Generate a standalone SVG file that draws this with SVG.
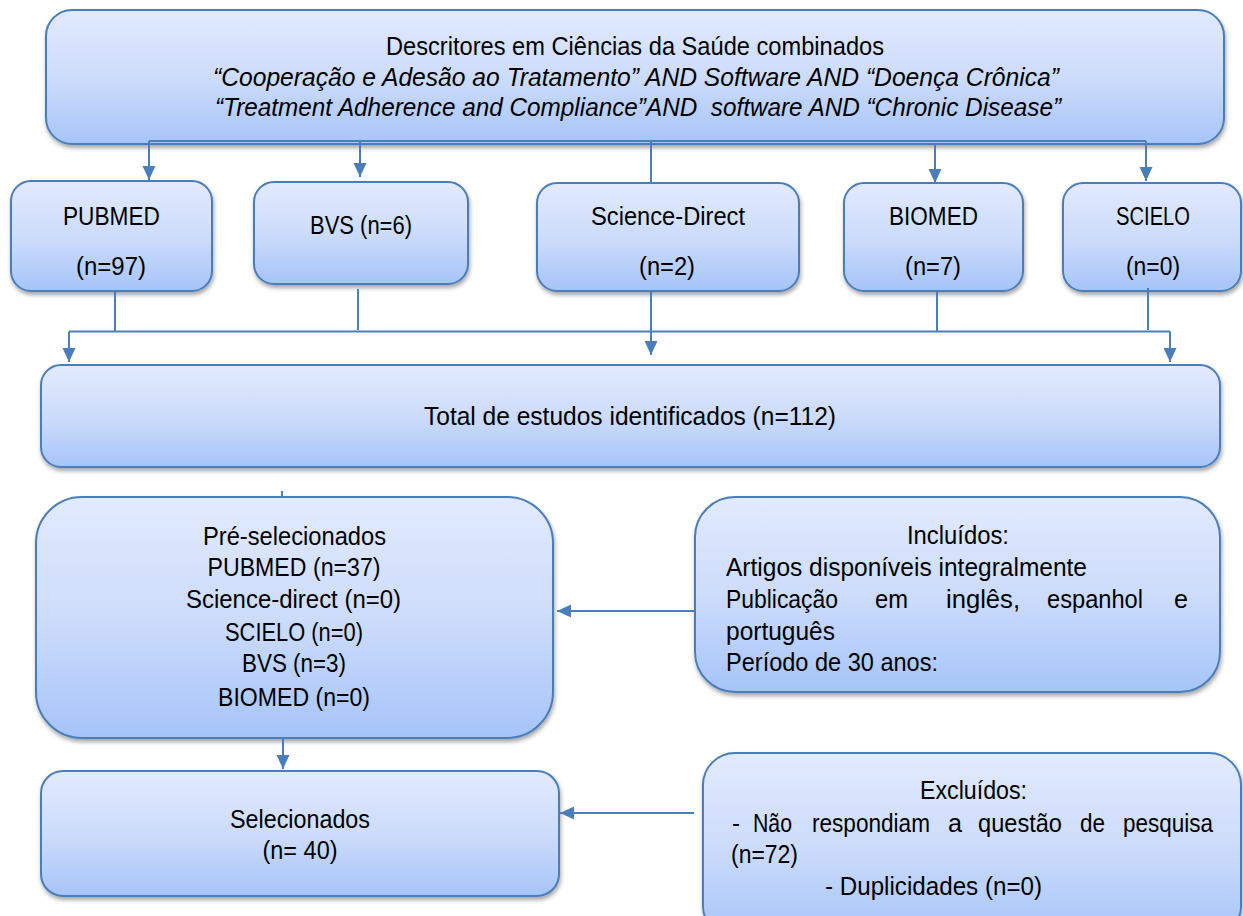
<svg xmlns="http://www.w3.org/2000/svg" width="1243" height="916" viewBox="0 0 1243 916">
  <defs>
    <linearGradient id="fillGrad" x1="0" y1="0" x2="0" y2="1">
      <stop offset="0" stop-color="#e2eafd"/>
      <stop offset="0.5" stop-color="#cddcfb"/>
      <stop offset="1" stop-color="#a6c4f9"/>
    </linearGradient>
    <filter id="shadow" x="-5%" y="-10%" width="110%" height="130%">
      <feDropShadow dx="1" dy="3" stdDeviation="2" flood-color="#000" flood-opacity="0.35"/>
    </filter>
    <marker id="arrow" markerUnits="userSpaceOnUse" markerWidth="14" markerHeight="14" viewBox="0 0 14 14" refX="14" refY="7" orient="auto">
      <path d="M0,0.5 L14,7 L0,13.5 Z" fill="#4a7ebb"/>
    </marker>
    <style>
      .box { fill: url(#fillGrad); stroke: #4a7ebb; stroke-width: 2; filter: url(#shadow); }
      .t { font-family: "Liberation Sans", Arial, sans-serif; font-size: 25px; fill: #000; }
      .c { text-anchor: middle; }
      .i { font-style: italic; }
      .conn { stroke: #4a7ebb; stroke-width: 2; fill: none; }
      .arr { marker-end: url(#arrow); }
    </style>
  </defs>

  <g id="node-descritores">
    <rect class="box" x="46" y="10" width="1178" height="134" rx="26" ry="26"/>
    <text class="t" x="386" y="55" textLength="498" lengthAdjust="spacingAndGlyphs">Descritores em Ciências da Saúde combinados</text>
    <text class="t i" x="213" y="86" textLength="846" lengthAdjust="spacingAndGlyphs">“Cooperação e Adesão ao Tratamento” AND Software AND “Doença Crônica”</text>
    <text class="t i" x="215" y="116" textLength="846" lengthAdjust="spacingAndGlyphs" xml:space="preserve">“Treatment Adherence and Compliance”AND  software AND “Chronic Disease”</text>
  </g>

  <g id="node-pubmed">
    <rect class="box" x="11" y="181" width="201" height="110" rx="20" ry="20"/>
    <text class="t c" x="111.5" y="225" textLength="97" lengthAdjust="spacingAndGlyphs">PUBMED</text>
    <text class="t c" x="111" y="275" textLength="70" lengthAdjust="spacingAndGlyphs">(n=97)</text>
  </g>

  <g id="node-bvs">
    <rect class="box" x="254" y="182" width="214" height="102" rx="20" ry="20"/>
    <text class="t c" x="361" y="234" textLength="102" lengthAdjust="spacingAndGlyphs">BVS (n=6)</text>
  </g>

  <g id="node-science">
    <rect class="box" x="537" y="183" width="262" height="108" rx="20" ry="20"/>
    <text class="t c" x="668" y="225" textLength="154" lengthAdjust="spacingAndGlyphs">Science-Direct</text>
    <text class="t c" x="667" y="275" textLength="56" lengthAdjust="spacingAndGlyphs">(n=2)</text>
  </g>

  <g id="node-biomed">
    <rect class="box" x="844" y="183" width="179" height="108" rx="20" ry="20"/>
    <text class="t c" x="933.5" y="225" textLength="89" lengthAdjust="spacingAndGlyphs">BIOMED</text>
    <text class="t c" x="933" y="275" textLength="56" lengthAdjust="spacingAndGlyphs">(n=7)</text>
  </g>

  <g id="node-scielo">
    <rect class="box" x="1063" y="183" width="178" height="108" rx="20" ry="20"/>
    <text class="t c" x="1153" y="225" textLength="74" lengthAdjust="spacingAndGlyphs">SCIELO</text>
    <text class="t c" x="1153" y="275" textLength="54" lengthAdjust="spacingAndGlyphs">(n=0)</text>
  </g>

  <g id="node-total">
    <rect class="box" x="41" y="365" width="1179" height="102" rx="20" ry="20"/>
    <text class="t c" x="630" y="425" textLength="412" lengthAdjust="spacingAndGlyphs">Total de estudos identificados (n=112)</text>
  </g>

  <g id="node-preselecionados">
    <rect class="box" x="36" y="497" width="517" height="241" rx="46" ry="46"/>
    <text class="t c" x="294.5" y="545" textLength="183" lengthAdjust="spacingAndGlyphs">Pré-selecionados</text>
    <text class="t c" x="294" y="576" textLength="173" lengthAdjust="spacingAndGlyphs">PUBMED (n=37)</text>
    <text class="t c" x="293.5" y="608" textLength="215" lengthAdjust="spacingAndGlyphs">Science-direct (n=0)</text>
    <text class="t c" x="294" y="640.5" textLength="138" lengthAdjust="spacingAndGlyphs">SCIELO (n=0)</text>
    <text class="t c" x="294" y="672" textLength="104" lengthAdjust="spacingAndGlyphs">BVS (n=3)</text>
    <text class="t c" x="294" y="706" textLength="152" lengthAdjust="spacingAndGlyphs">BIOMED (n=0)</text>
  </g>

  <g id="node-incluidos">
    <rect class="box" x="695" y="497" width="525" height="195" rx="40" ry="40"/>
    <text class="t c" x="958" y="544" textLength="102" lengthAdjust="spacingAndGlyphs">Incluídos:</text>
    <text class="t" x="726" y="576" textLength="361" lengthAdjust="spacingAndGlyphs">Artigos disponíveis integralmente</text>
    <text class="t" x="726" y="608" textLength="112" lengthAdjust="spacingAndGlyphs">Publicação</text>
    <text class="t" x="875" y="608" textLength="33" lengthAdjust="spacingAndGlyphs">em</text>
    <text class="t" x="946" y="608" textLength="74" lengthAdjust="spacingAndGlyphs">inglês,</text>
    <text class="t" x="1047" y="608" textLength="96" lengthAdjust="spacingAndGlyphs">espanhol</text>
    <text class="t" x="1174" y="608" textLength="14" lengthAdjust="spacingAndGlyphs">e</text>
    <text class="t" x="726" y="640" textLength="109" lengthAdjust="spacingAndGlyphs">português</text>
    <text class="t" x="726" y="671" textLength="212" lengthAdjust="spacingAndGlyphs">Período de 30 anos:</text>
  </g>

  <g id="node-selecionados">
    <rect class="box" x="41" y="771" width="518" height="125" rx="22" ry="22"/>
    <text class="t c" x="300" y="828" textLength="140" lengthAdjust="spacingAndGlyphs">Selecionados</text>
    <text class="t c" x="300" y="859" textLength="75" lengthAdjust="spacingAndGlyphs">(n= 40)</text>
  </g>

  <g id="node-excluidos">
    <rect class="box" x="703" y="753" width="538" height="185" rx="32" ry="32"/>
    <text class="t c" x="973.5" y="799" textLength="107" lengthAdjust="spacingAndGlyphs">Excluídos:</text>
    <text class="t" x="732" y="832" textLength="8" lengthAdjust="spacingAndGlyphs">-</text>
    <text class="t" x="753" y="832" textLength="39" lengthAdjust="spacingAndGlyphs">Não</text>
    <text class="t" x="812" y="832" textLength="118" lengthAdjust="spacingAndGlyphs">respondiam</text>
    <text class="t" x="948" y="832" textLength="14" lengthAdjust="spacingAndGlyphs">a</text>
    <text class="t" x="978" y="832" textLength="84" lengthAdjust="spacingAndGlyphs">questão</text>
    <text class="t" x="1080" y="832" textLength="25" lengthAdjust="spacingAndGlyphs">de</text>
    <text class="t" x="1123" y="832" textLength="90" lengthAdjust="spacingAndGlyphs">pesquisa</text>
    <text class="t" x="731" y="863" textLength="67" lengthAdjust="spacingAndGlyphs">(n=72)</text>
    <text class="t" x="825" y="895" textLength="217" lengthAdjust="spacingAndGlyphs">- Duplicidades (n=0)</text>
  </g>

  <g id="connectors">
    <line class="conn" x1="149" y1="141" x2="1146" y2="141"/>
    <line class="conn arr" x1="149" y1="141" x2="149" y2="180"/>
    <line class="conn arr" x1="360" y1="140" x2="360" y2="177"/>
    <line class="conn" x1="651" y1="141" x2="651" y2="183"/>
    <line class="conn arr" x1="935" y1="145" x2="935" y2="183"/>
    <line class="conn arr" x1="1146" y1="141" x2="1146" y2="181"/>
    <line class="conn" x1="115" y1="291" x2="115" y2="331"/>
    <line class="conn" x1="358" y1="289" x2="358" y2="330"/>
    <line class="conn" x1="937" y1="291" x2="937" y2="331"/>
    <line class="conn" x1="1148" y1="288" x2="1148" y2="330"/>
    <line class="conn" x1="69" y1="331.5" x2="1170" y2="331.5"/>
    <line class="conn arr" x1="69" y1="331.5" x2="69" y2="362"/>
    <line class="conn arr" x1="1170" y1="331.5" x2="1170" y2="362"/>
    <line class="conn arr" x1="651" y1="291" x2="651" y2="355"/>
    <line class="conn" x1="282" y1="491" x2="282" y2="497" stroke-width="1"/>
    <line class="conn arr" x1="695" y1="611" x2="557" y2="611"/>
    <line class="conn arr" x1="283" y1="738" x2="283" y2="769"/>
    <line class="conn arr" x1="694" y1="813" x2="560" y2="813"/>
  </g>
</svg>
